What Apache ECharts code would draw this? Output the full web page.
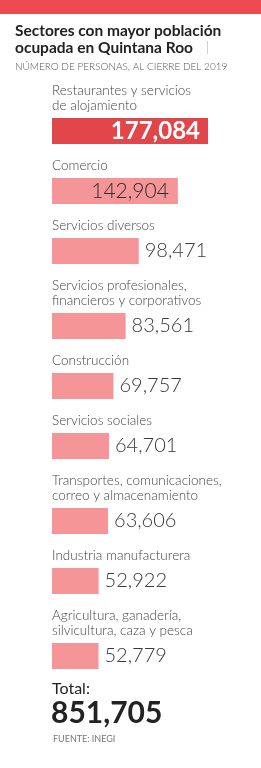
<!DOCTYPE html>
<html>
<head>
<meta charset="utf-8">
<script src="https://cdn.jsdelivr.net/npm/echarts@6/dist/echarts.min.js"></script>
<style>
  html, body { margin: 0; padding: 0; background: #fff; }
  #chart { width: 261px; height: 768px; }
</style>
</head>
<body>
<div id="chart"></div>
<script>
// datos
const categories = [
  ['Restaurantes y servicios', 'de alojamiento'],
  ['Comercio'],
  ['Servicios diversos'],
  ['Servicios profesionales,', 'financieros y corporativos'],
  ['Construcción'],
  ['Servicios sociales'],
  ['Transportes, comunicaciones,', 'correo y almacenamiento'],
  ['Industria manufacturera'],
  ['Agricultura, ganadería,', 'silvicultura, caza y pesca']
]
const values = [177084, 142904, 98471, 83561, 69757, 64701, 63606, 52922, 52779]
const totalLabel = 'Total:'
const totalValue = 851705

const FONT = 'Lato'
const chart = echarts.init(document.getElementById('chart'), null, { renderer: 'canvas' })

const fmt = v => v.toLocaleString('en-US')
const maxVal = Math.max(...values)

// layout de cada bloque
const barH = 26
const lineH = 15
let barTop = 118
const grids = [], xAxes = [], yAxes = [], series = [], graphic = []

categories.forEach((lines, i) => {
  if (i > 0) barTop += barH + 34 + lineH * (lines.length - 1)
  grids.push({ left: 52, width: 156, top: barTop, height: barH })
  xAxes.push({ type: 'value', gridIndex: i, min: 0, max: maxVal, show: false })
  yAxes.push({ type: 'category', gridIndex: i, data: [lines.join(' ')], show: false })

  let label
  if (i === 0) {
    label = { show: true, position: 'insideRight', distance: 8, color: '#fff', fontFamily: FONT, fontWeight: 'bold', fontSize: 24 }
  } else if (i === 1) {
    label = { show: true, position: 'insideRight', distance: 9, color: '#2e2e2e', fontFamily: FONT, fontWeight: 300, fontSize: 21 }
  } else {
    label = { show: true, position: 'right', distance: 6, color: '#3a3a3a', fontFamily: FONT, fontWeight: 300, fontSize: 20 }
  }
  series.push({
    type: 'bar',
    xAxisIndex: i,
    yAxisIndex: i,
    data: [values[i]],
    barWidth: '100%',
    silent: true,
    itemStyle: { color: i === 0 ? '#e0464a' : '#f59598' },
    label: Object.assign(label, { formatter: p => fmt(p.value) })
  })

  lines.forEach((t, j) => {
    graphic.push({
      type: 'text',
      left: 52,
      top: barTop - 11 - lineH * (lines.length - 1 - j) - 8,
      style: { text: t, fill: '#444', font: '300 13.5px ' + FONT }
    })
  })
  if (i === categories.length - 1) {
    const y = barTop + barH
    graphic.push(
      { type: 'text', left: 52, top: y + 12, style: { text: totalLabel, fill: '#222', font: '16px ' + FONT } },
      { type: 'text', left: 51, top: y + 29, style: { text: fmt(totalValue), fill: '#222', font: 'bold 30px ' + FONT } },
      { type: 'text', left: 53, top: y + 66, style: { text: 'FUENTE: INEGI', fill: '#777', font: '9px ' + FONT } }
    )
  }
})

// encabezado
graphic.push(
  { type: 'rect', left: 0, top: 0, shape: { width: 261, height: 14 }, style: { fill: '#ec4a4f' } },
  { type: 'text', left: 15, top: 23, style: { text: 'Sectores con mayor población', fill: '#222', font: 'bold 15.5px ' + FONT } },
  { type: 'text', left: 15, top: 40, style: { text: 'ocupada en Quintana Roo', fill: '#222', font: 'bold 15.5px ' + FONT } },
  { type: 'text', left: 206, top: 40, style: { text: '|', fill: '#aaa', font: '300 14px ' + FONT } },
  { type: 'text', left: 15, top: 62, style: { text: 'NÚMERO DE PERSONAS, AL CIERRE DEL 2019', fill: '#555', font: '300 10px ' + FONT } }
)

chart.setOption({
  animation: false,
  grid: grids,
  xAxis: xAxes,
  yAxis: yAxes,
  series: series,
  graphic: graphic
})
</script>
</body>
</html>
